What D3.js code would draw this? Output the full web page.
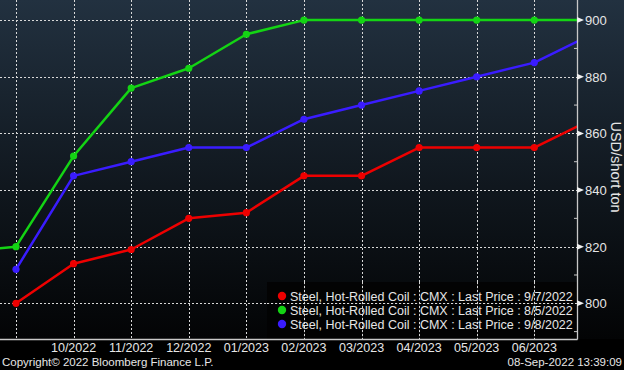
<!DOCTYPE html>
<html>
<head>
<meta charset="utf-8">
<script src="https://cdn.jsdelivr.net/npm/d3@7"></script>
<style>
    html, body { margin: 0; padding: 0; background: #000; }
    svg { display: block; font-family: "Liberation Sans", Arial, sans-serif; }
</style>
</head>
<body>
<div id="chart"></div>
<script>
// month slots (index 0 is off the left edge, last one is cut by the axis)
const months = ["08/2022", "09/2022", "10/2022", "11/2022", "12/2022", "01/2023",
    "02/2023", "03/2023", "04/2023", "05/2023", "06/2023", "07/2023"];
const tickLabels = ["10/2022", "11/2022", "12/2022", "01/2023", "02/2023",
    "03/2023", "04/2023", "05/2023", "06/2023"];
const yTicks = [800, 820, 840, 860, 880, 900];

const redValues   = [null, 800, 814, 819, 830, 832, 845, 845, 855, 855, 855, 865];
const greenValues = [818, 820, 852, 876, 883, 895, 900, 900, 900, 900, 900, 900];
const blueValues  = [null, 812, 845, 850, 855, 855, 865, 870, 875, 880, 885, 895];

const seriesNames = [
    "Steel, Hot-Rolled Coil : CMX : Last Price : 9/7/2022",
    "Steel, Hot-Rolled Coil : CMX : Last Price : 8/5/2022",
    "Steel, Hot-Rolled Coil : CMX : Last Price : 9/8/2022"
];

class LineChart {
    constructor(_config) {
        this.config = {
            parentElement: _config.parentElement,
            containerWidth: 624,
            containerHeight: 370,
            plotRight: 577,
            plotBottom: 339
        };
        this.initVis();
    }

    initVis() {
        let vis = this;
        const c = vis.config;

        vis.svg = d3.select(c.parentElement)
            .append('svg')
            .attr('width', c.containerWidth)
            .attr('height', c.containerHeight);

        const defs = vis.svg.append('defs');
        const grad = defs.append('linearGradient')
            .attr('id', 'bg').attr('x1', 0).attr('y1', 0).attr('x2', 0).attr('y2', 1);
        grad.append('stop').attr('offset', '0%').attr('stop-color', '#223140');
        grad.append('stop').attr('offset', '55%').attr('stop-color', '#10171e');
        grad.append('stop').attr('offset', '100%').attr('stop-color', '#030405');

        defs.append('clipPath').attr('id', 'plotclip')
            .append('rect').attr('x', 0).attr('y', 0)
            .attr('width', c.plotRight).attr('height', c.plotBottom);

        // background
        vis.svg.append('rect')
            .attr('width', c.containerWidth).attr('height', c.containerHeight)
            .attr('fill', '#000');
        vis.svg.append('rect')
            .attr('width', c.containerWidth).attr('height', c.plotBottom)
            .attr('fill', 'url(#bg)');

        // scales
        const x = d3.scaleLinear()
            .domain([1, 10])
            .range([16, 534.3]);
        const y = d3.scaleLinear()
            .domain([787.4, 907.1])
            .range([c.plotBottom, 0]);

        // grid
        const grid = vis.svg.append('g');
        grid.selectAll('.hgrid')
            .data(yTicks)
            .enter().append('line')
            .attr('x1', 0).attr('x2', c.plotRight)
            .attr('y1', d => Math.round(y(d)) + 0.5)
            .attr('y2', d => Math.round(y(d)) + 0.5)
            .attr('stroke', '#d8d8d8').attr('stroke-width', 1)
            .attr('stroke-dasharray', '2,2');
        grid.selectAll('.vgrid')
            .data(d3.range(1, 11))
            .enter().append('line')
            .attr('x1', d => Math.round(x(d)) + 0.5)
            .attr('x2', d => Math.round(x(d)) + 0.5)
            .attr('y1', 0).attr('y2', c.plotBottom)
            .attr('stroke', '#d8d8d8').attr('stroke-width', 1)
            .attr('stroke-dasharray', '2,2');

        // series
        const series = [
            {name: seriesNames[0], values: redValues, color: '#ee0000'},
            {name: seriesNames[1], values: greenValues, color: '#14d414'},
            {name: seriesNames[2], values: blueValues, color: '#3a1cff'}
        ];
        const line = d3.line()
            .defined(d => d.v !== null)
            .x(d => x(d.i))
            .y(d => y(d.v));

        const plot = vis.svg.append('g').attr('clip-path', 'url(#plotclip)');

        const legend = vis.svg.append('g');
        legend.append('rect')
            .attr('x', 267).attr('y', 282)
            .attr('width', c.plotRight - 267).attr('height', c.plotBottom - 282)
            .attr('fill', '#020202').attr('fill-opacity', 0.85);
        // grid lines still show through the legend box
        legend.selectAll('.lv')
            .data(d3.range(1, 11).filter(d => x(d) > 267))
            .enter().append('line')
            .attr('x1', d => Math.round(x(d)) + 0.5)
            .attr('x2', d => Math.round(x(d)) + 0.5)
            .attr('y1', 282).attr('y2', c.plotBottom)
            .attr('stroke', '#d8d8d8').attr('stroke-dasharray', '2,2');
        legend.append('line')
            .attr('x1', 267).attr('x2', c.plotRight)
            .attr('y1', Math.round(y(800)) + 0.5).attr('y2', Math.round(y(800)) + 0.5)
            .attr('stroke', '#d8d8d8').attr('stroke-dasharray', '2,2');

        series.forEach(s => {
            const pts = s.values.map((v, i) => ({i: i, v: v}));
            plot.append('path')
                .datum(pts)
                .attr('d', line)
                .attr('fill', 'none')
                .attr('stroke', s.color)
                .attr('stroke-width', 2.5)
                .attr('stroke-linejoin', 'round');
            plot.selectAll(null)
                .data(pts.filter(d => d.v !== null && d.i >= 1 && d.i <= 10))
                .enter().append('circle')
                .attr('cx', d => x(d.i))
                .attr('cy', d => y(d.v))
                .attr('r', 3.6)
                .attr('fill', s.color);
        });

        series.forEach((s, k) => {
            legend.append('circle')
                .attr('cx', 282).attr('cy', 296 + k * 14)
                .attr('r', 4.2).attr('fill', s.color);
            legend.append('text')
                .attr('x', 290).attr('y', 300.5 + k * 14)
                .attr('fill', '#e6e6e6')
                .attr('font-size', 12.5)
                .text(s.name);
        });

        // axes lines
        vis.svg.append('line')
            .attr('x1', 0).attr('x2', c.plotRight + 0.5)
            .attr('y1', c.plotBottom + 0.5).attr('y2', c.plotBottom + 0.5)
            .attr('stroke', '#c8c8c8').attr('stroke-width', 1.3);
        vis.svg.append('line')
            .attr('x1', c.plotRight + 0.5).attr('x2', c.plotRight + 0.5)
            .attr('y1', 0).attr('y2', c.plotBottom + 0.5)
            .attr('stroke', '#c8c8c8').attr('stroke-width', 1.3);

        // y ticks: triangles at majors, little marks at minors
        const yAxis = vis.svg.append('g');
        yAxis.selectAll('.tri')
            .data(yTicks)
            .enter().append('path')
            .attr('d', d => {
                const yy = y(d);
                return `M${c.plotRight},${yy - 3}L${c.plotRight + 7},${yy}L${c.plotRight},${yy + 3}Z`;
            })
            .attr('fill', '#f0f0f0');
        yAxis.selectAll('.minor')
            .data(d3.range(790, 900, 20))
            .enter().append('line')
            .attr('x1', c.plotRight - 3).attr('x2', c.plotRight)
            .attr('y1', d => y(d)).attr('y2', d => y(d))
            .attr('stroke', '#c8c8c8');
        yAxis.selectAll('.lbl')
            .data(yTicks)
            .enter().append('text')
            .attr('x', 585).attr('y', d => y(d) + 5)
            .attr('fill', '#e6e6e6')
            .attr('font-size', 13)
            .text(d => d);

        vis.svg.append('text')
            .attr('transform', 'translate(611,167) rotate(90)')
            .attr('text-anchor', 'middle')
            .attr('fill', '#e6e6e6')
            .attr('font-size', 14.5)
            .text('USD/short ton');

        // x tick labels
        vis.svg.selectAll('.xl')
            .data(tickLabels)
            .enter().append('text')
            .attr('x', d => x(months.indexOf(d)))
            .attr('y', 352)
            .attr('text-anchor', 'middle')
            .attr('fill', '#e6e6e6')
            .attr('font-size', 12.5)
            .text(d => d);

        vis.svg.append('text')
            .attr('x', 2).attr('y', 366)
            .attr('fill', '#e6e6e6').attr('font-size', 11.5)
            .text('Copyright\u00a9 2022 Bloomberg Finance L.P.');
        vis.svg.append('text')
            .attr('x', 622).attr('y', 366)
            .attr('text-anchor', 'end')
            .attr('fill', '#e6e6e6').attr('font-size', 11.5)
            .text('08-Sep-2022 13:39:09');
    }
}

new LineChart({parentElement: '#chart'});
</script>
</body>
</html>
